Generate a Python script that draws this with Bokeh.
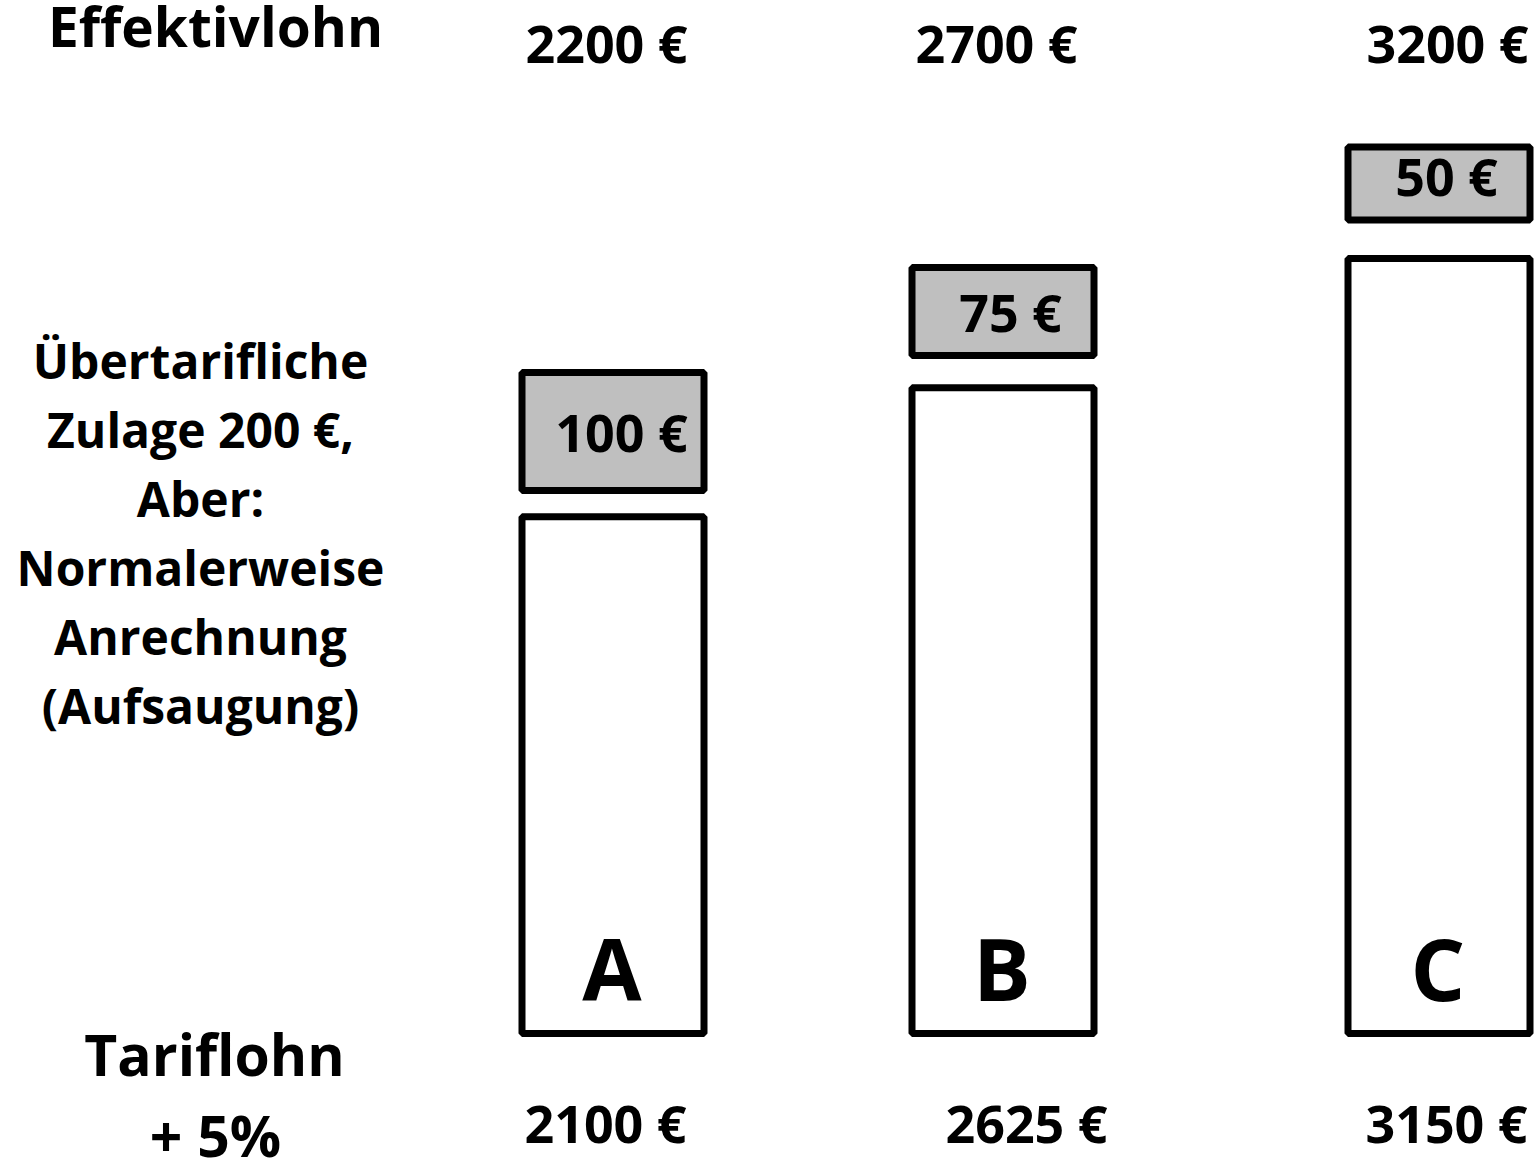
from bokeh.plotting import figure
from bokeh.models import Range1d, ColumnDataSource
from bokeh.core.properties import value
from bokeh.embed import file_html
from bokeh.resources import INLINE

# ---------------- data ----------------
kategorien = ["A", "B", "C"]
tariflohn = [2100, 2625, 3150]          # Tariflohn + 5%
zulage_rest = [100, 75, 50]             # verbleibende Zulage
effektivlohn = [2200, 2700, 3200]       # Effektivlohn

linke_zeilen = ["Übertarifliche", "Zulage 200 €,", "Aber:", "Normalerweise",
                "Anrechnung", "(Aufsaugung)"]

# ---------------- layout (pixels) ----------------
W, H = 1535, 1163
PX_PER_EUR = 775 / 3150.0
BASE_Y = 1033.0                      # pixel row of the 0 € line


def py(row):
    """pixel row -> value on the € axis"""
    return (BASE_Y - row) / PX_PER_EUR


def ty(row, size):
    """baseline row of a text -> anchor value (compensates renderer offset)"""
    return py(row - 0.41 * size)


spalte_x = [612.5, 1002.5, 1438.5]
balken_breite = 182
zulage_unten_px = [490, 355, 219.5]
zulage_oben_px = [372, 267, 146.5]
zulage_text_dx = [8.5, 7.5, 7.5]

FONT = value("Open Sans")

p = figure(width=W, height=H, x_range=Range1d(0, W),
           y_range=Range1d(py(H), py(0)),
           output_backend="svg", toolbar_location=None, min_border=0,
           x_axis_location=None, y_axis_location=None)
p.grid.visible = False
p.outline_line_color = None
p.background_fill_color = "white"
p.border_fill_color = "white"

left = [x - balken_breite / 2 for x in spalte_x]
right = [x + balken_breite / 2 for x in spalte_x]

# Tariflohn bars
src_bar = ColumnDataSource(dict(left=left, right=right, bottom=[0, 0, 0], top=tariflohn))
p.quad(left="left", right="right", bottom="bottom", top="top", source=src_bar,
       fill_color="white", line_color="black", line_width=7)

# Zulage boxes
src_z = ColumnDataSource(dict(left=left, right=right,
                              bottom=[py(v) for v in zulage_unten_px],
                              top=[py(v) for v in zulage_oben_px]))
p.quad(left="left", right="right", bottom="bottom", top="top", source=src_z,
       fill_color="#bfbfbf", line_color="black", line_width=7)

common = dict(text_font=FONT, text_font_style="bold", text_color="black",
              text_baseline="alphabetic")

NUM = 52
# Zulage labels
p.text(x=[x + d for x, d in zip(spalte_x, zulage_text_dx)],
       y=[ty(452, NUM), ty(332, NUM), ty(196, NUM)],
       text=[f"{v} €" for v in zulage_rest], text_font_size=f"{NUM}px",
       text_align="center", **common)

# category letters
LET = 86
p.text(x=[x - 1 for x in spalte_x], y=[ty(1002, LET)] * 3, text=kategorien,
       text_font_size=f"{LET}px", text_align="center", **common)

# Effektivlohn values (top)
p.text(x=[606, 996, 1447], y=[ty(63, NUM)] * 3,
       text=[f"{v} €" for v in effektivlohn], text_font_size=f"{NUM}px",
       text_align="center", **common)

# Tariflohn values (bottom)
p.text(x=[605, 1026, 1446], y=[ty(1143, NUM)] * 3,
       text=[f"{v} €" for v in tariflohn], text_font_size=f"{NUM}px",
       text_align="center", **common)

# headings
p.text(x=[215], y=[ty(48, 55)], text=["Effektivlohn"], text_font_size="55px",
       text_align="center", **common)
p.text(x=[214, 215], y=[ty(1077, 57), ty(1158, 57)], text=["Tariflohn", "+ 5%"],
       text_font_size="57px", text_align="center", **common)

# left explanation block
LS = 48
p.text(x=[200] * len(linke_zeilen),
       y=[ty(380 + 69 * i, LS) for i in range(len(linke_zeilen))],
       text=linke_zeilen, text_font_size=f"{LS}px", text_align="center", **common)

open("out.html", "w").write(file_html(p, INLINE))
